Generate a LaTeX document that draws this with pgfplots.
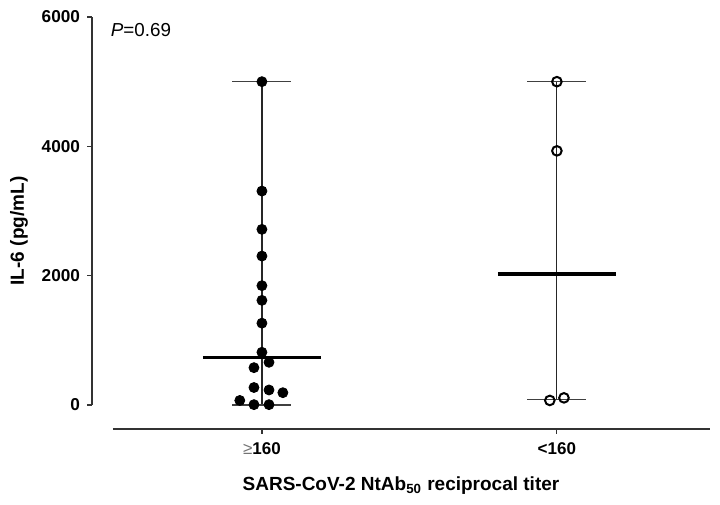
\documentclass[border=0pt]{standalone}
\usepackage{pgfplots}
\pgfplotsset{compat=1.18}
\usepackage{fontspec}
\setmainfont{Liberation Sans}
\begin{document}
\begin{tikzpicture}
\begin{axis}[
  scale only axis,
  width=309pt, height=206pt,
  xmin=-0.576, xmax=1.519,
  ymin=-371, ymax=6000,
  clip=false,
  axis line style={draw=none},
  xtick pos=bottom, ytick pos=left,
  tick align=outside,
  major tick length=2.5pt,
  tick style={black!80, line width=0.6pt},
  xtick={0,1},
  xticklabels={{{\mdseries\color{black!55}≥}160},{<160}},
  ytick={0,2000,4000,6000},
  /pgf/number format/assume math mode=true,
  /pgf/number format/1000 sep={},
  xticklabel style={font=\bfseries\fontsize{8.5}{10}\selectfont, yshift=-1pt},
  yticklabel style={font=\bfseries\fontsize{8.6}{10}\selectfont},
  ylabel={IL-6 (pg/mL)},
  xlabel={SARS-CoV-2 NtAb\textsubscript{50} reciprocal titer},
  label style={font=\bfseries\fontsize{9.5}{11}\selectfont},
  xlabel style={yshift=-4pt},
  ylabel style={xshift=-4pt},
]
% invisible bounding box
\path (axis cs:-0.888,6263) rectangle (axis cs:1.553,-1546);
% axis lines
\draw[black!80, line width=0.65pt] (axis cs:-0.505,-371) -- (axis cs:1.519,-371);
\draw[black!80, line width=0.65pt] (axis cs:-0.576,0) -- (axis cs:-0.576,6000);
% whiskers group 1
\addplot[black!85, line width=0.6pt, mark=none] coordinates {(0,0) (0,5000)};
\addplot[black!75, line width=0.7pt, mark=none] coordinates {(-0.1,0) (0.1,0)};
\addplot[black!75, line width=0.7pt, mark=none] coordinates {(-0.1,5000) (0.1,5000)};
% whiskers group 2
\addplot[black!85, line width=0.6pt, mark=none] coordinates {(1,85) (1,5000)};
\addplot[black!75, line width=0.7pt, mark=none] coordinates {(0.9,85) (1.1,85)};
\addplot[black!75, line width=0.7pt, mark=none] coordinates {(0.9,5000) (1.1,5000)};
% medians
\addplot[black, line width=1.8pt, mark=none] coordinates {(-0.2,737) (0.2,737)};
\addplot[black, line width=1.8pt, mark=none] coordinates {(0.8,2022) (1.2,2022)};
% points group 1
\addplot[only marks, mark=*, mark size=2.5pt, black, fill=black] coordinates {
(0,5000) (0,3308) (0,2716) (0,2303) (0,1845) (0,1618) (0,1265) (0,815)
(0.024,660) (-0.027,577) (-0.027,270) (0.024,232) (0.071,190) (-0.075,70)
(-0.027,5) (0.024,5)
};
% points group 2
\addplot[only marks, mark=o, mark size=2.4pt, line width=1pt, black] coordinates {
(1,5000) (1,3930) (0.976,70) (1.024,110)
};
\node[anchor=base west, font=\fontsize{9.4}{11}\selectfont] at (axis cs:-0.536,5694) {\textit{P}=0.69};
\end{axis}
\end{tikzpicture}
\end{document}
